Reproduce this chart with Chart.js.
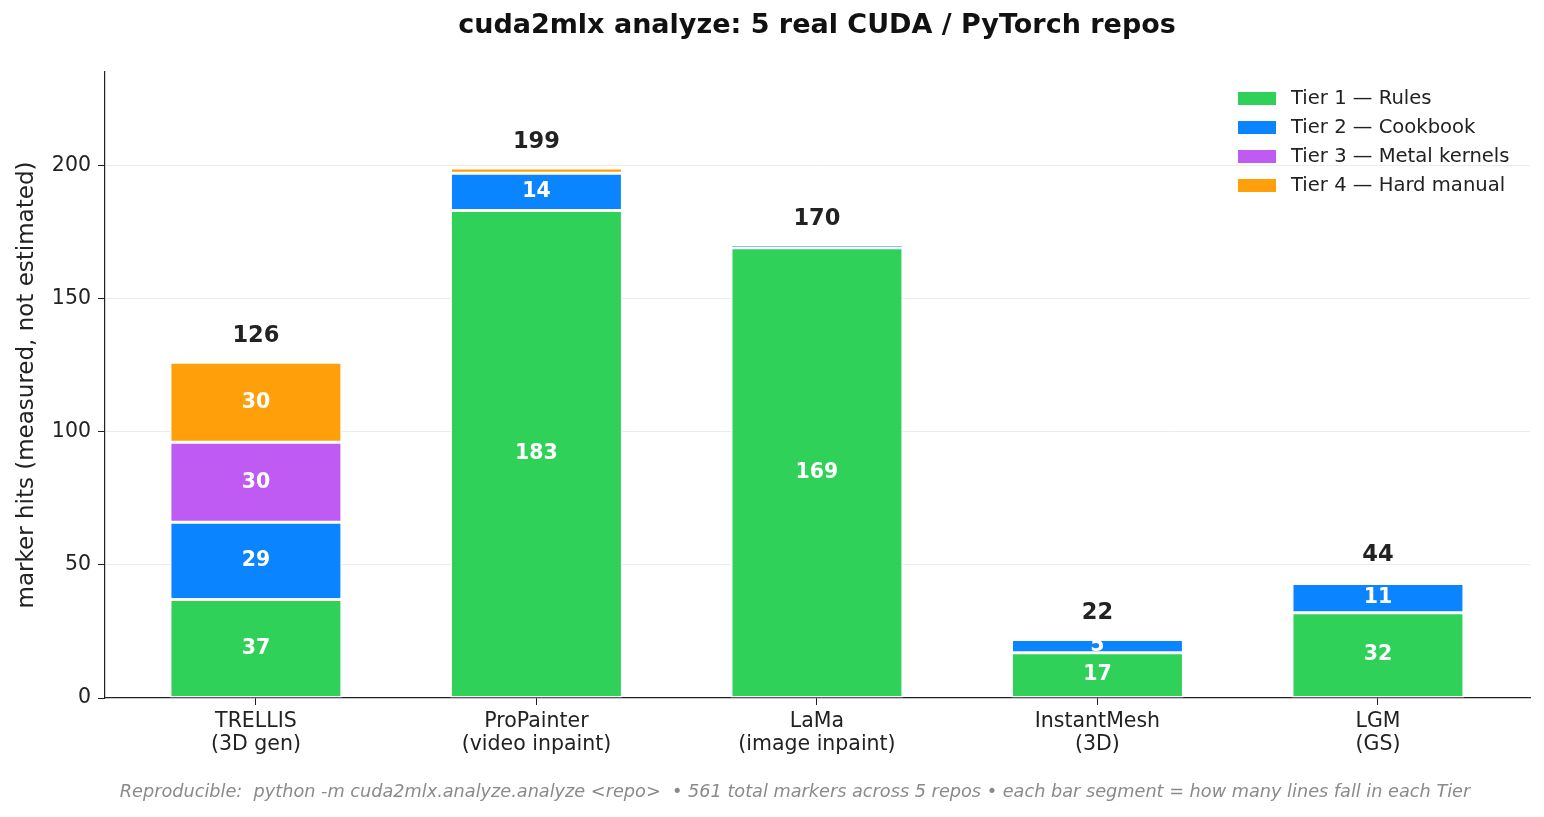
<!DOCTYPE html>
<html>
<head>
<meta charset="utf-8">
<script src="https://cdn.jsdelivr.net/npm/chart.js"></script>
<style>
	html, body { margin: 0; padding: 0; background: #fff; }
	#wrap { width: 1544px; height: 817px; position: relative; }
</style>
</head>
<body>
<div id="wrap"><canvas id="myChart"></canvas></div>
<script>
// repos on the x axis
const repos = [["TRELLIS", "(3D gen)"], ["ProPainter", "(video inpaint)"], ["LaMa", "(image inpaint)"], ["InstantMesh", "(3D)"], ["LGM", "(GS)"]];
// marker hits per tier
const tier1 = [37, 183, 169, 17, 32];
const tier2 = [29, 14, 1, 5, 11];
const tier3 = [30, 0, 0, 0, 0];
const tier4 = [30, 2, 0, 0, 0];
// totals printed above the bars
const totals = [126, 199, 170, 22, 44];
const yTicks = [0, 50, 100, 150, 200];

const tierNames = ["Tier 1 — Rules", "Tier 2 — Cookbook", "Tier 3 — Metal kernels", "Tier 4 — Hard manual"];
const tierColors = ["#30D158", "#0A84FF", "#BF5AF2", "#FF9F0A"];
const FONT = "'DejaVu Sans', sans-serif";

function series(values) {
	return values.map((v, i) => ({ x: i, y: v }));
}

const datasets = [tier1, tier2, tier3, tier4].map((vals, i) => ({
	label: tierNames[i],
	data: series(vals),
	backgroundColor: tierColors[i],
	borderColor: "#ffffff",
	// thin edge on one-unit slivers so the colour still shows
	borderWidth: function (c) {
		const v = c.raw ? c.raw.y : 0;
		return v <= 1 ? 1 : 1.5;
	},
	borderSkipped: false,
	barPercentage: 0.613,
	categoryPercentage: 1
}));

// labels inside segments, totals on top, legend, title, footer
const annotate = {
	id: "annotate",
	afterDatasetsDraw(chart) {
		const ctx = chart.ctx;
		const y = chart.scales.y;
		ctx.save();
		ctx.textAlign = "center";
		ctx.textBaseline = "middle";
		// segment numbers
		ctx.fillStyle = "#ffffff";
		ctx.font = "bold 20.5px " + FONT;
		chart.data.datasets.forEach((ds, di) => {
			const meta = chart.getDatasetMeta(di);
			meta.data.forEach((bar, i) => {
				const v = ds.data[i].y;
				if (v < 3) return;
				ctx.fillText(String(v), bar.x, (bar.y + bar.base) / 2);
			});
		});
		// totals
		ctx.fillStyle = "#222222";
		ctx.font = "bold 22.5px " + FONT;
		const m0 = chart.getDatasetMeta(0);
		totals.forEach((t, i) => {
			ctx.fillText(String(t), m0.data[i].x, y.getPixelForValue(t) - 26);
		});
		// legend
		ctx.textAlign = "left";
		ctx.font = "19.6px " + FONT;
		tierNames.forEach((name, i) => {
			const cy = 98 + i * 29;
			ctx.fillStyle = tierColors[i];
			ctx.fillRect(1238, cy - 6, 38, 13);
			ctx.fillStyle = "#222222";
			ctx.fillText(name, 1291, cy + 1);
		});
		// title
		ctx.textAlign = "center";
		ctx.font = "bold 27px " + FONT;
		ctx.fillStyle = "#111111";
		ctx.fillText("cuda2mlx analyze: 5 real CUDA / PyTorch repos", 817, 26);
		// footer
		ctx.font = "italic 17.7px " + FONT;
		ctx.fillStyle = "#8a8a8a";
		ctx.fillText("Reproducible:  python -m cuda2mlx.analyze.analyze <repo>  \u2022 561 total markers across 5 repos \u2022 each bar segment = how many lines fall in each Tier", 795, 792);
		ctx.restore();
	}
};

const ctx = document.getElementById("myChart").getContext("2d");
new Chart(ctx, {
	type: "bar",
	data: { datasets: datasets },
	plugins: [annotate],
	options: {
		responsive: true,
		maintainAspectRatio: false,
		animation: false,
		layout: { padding: { top: 72, right: 14, left: 0, bottom: 0 } },
		plugins: {
			legend: { display: false },
			title: { display: false },
			tooltip: { enabled: false }
		},
		scales: {
			x: {
				type: "linear",
				stacked: true,
				offset: false,
				min: -0.538,
				max: 4.542,
				afterBuildTicks(scale) {
					scale.ticks = repos.map((r, i) => ({ value: i }));
				},
				afterFit(scale) { scale.height = 119; },
				ticks: {
					color: "#222222",
					font: { family: FONT, size: 20.5, lineHeight: 1.12 },
					padding: 5,
					maxRotation: 0,
					autoSkip: false,
					callback: function (value) { return repos[value]; }
				},
				grid: {
					offset: false,
					drawOnChartArea: false,
					tickColor: "#222222",
					tickLength: 7
				},
				border: { color: "#222222", width: 1.2 }
			},
			y: {
				stacked: true,
				min: 0,
				max: 235,
				afterBuildTicks(scale) {
					scale.ticks = yTicks.map(v => ({ value: v }));
				},
				afterFit(scale) { scale.width = 105; },
				title: {
					display: true,
					text: "marker hits (measured, not estimated)",
					color: "#222222",
					font: { family: FONT, size: 23 },
					padding: { top: 13, bottom: 0 }
				},
				ticks: {
					color: "#222222",
					font: { family: FONT, size: 20.5 },
					padding: 7
				},
				grid: {
					color: function (c) { return c.tick && c.tick.value === 0 ? "rgba(0,0,0,0)" : "#ebebeb"; },
					tickColor: "#222222",
					tickLength: 7
				},
				border: { color: "#222222", width: 1.2 }
			}
		}
	}
});
</script>
</body>
</html>
